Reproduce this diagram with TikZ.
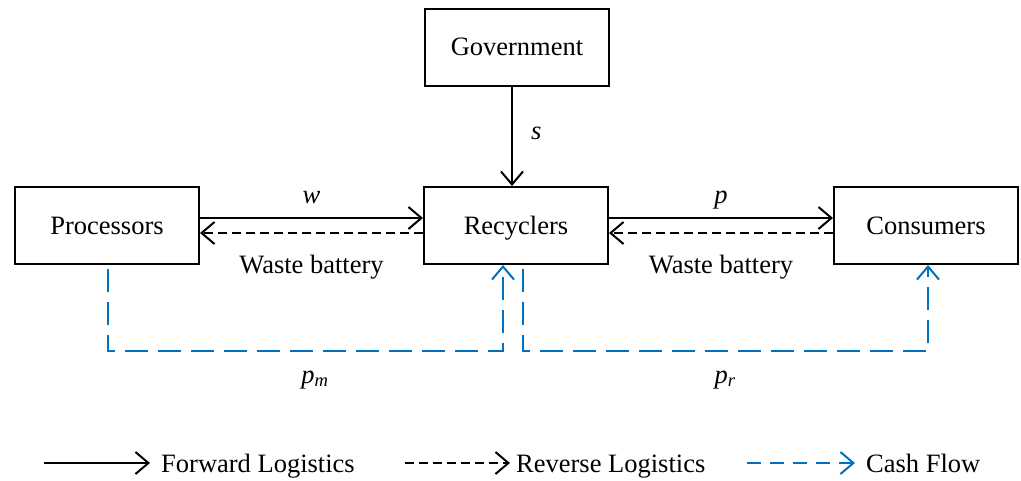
\documentclass[tikz,border=0pt]{standalone}
\usepackage{fontspec}
\setmainfont{Liberation Serif}
\usetikzlibrary{arrows.meta,calc}
\definecolor{cashblue}{RGB}{0,112,192}
\begin{document}
\begin{tikzpicture}[x=1pt,y=-1pt,
  box/.style={draw,line width=2pt,minimum width=184pt,minimum height=77pt,inner sep=0pt,text height=21pt,text depth=4pt,font=\fontsize{26.5}{31}\selectfont},
  lbl/.style={font=\fontsize{26.5}{31}\selectfont,inner sep=0pt,anchor=base},
  leg/.style={font=\fontsize{26.5}{31}\selectfont,inner sep=0pt,anchor=base west},
  tip/.style={-{Straight Barb[length=13pt,width=22pt,line width=2pt]}},
  fwd/.style={tip,line width=2pt,black},
  rev/.style={tip,line width=2pt,black,dash pattern=on 9pt off 5pt},
  cash/.style={tip,line width=2pt,cashblue,dash pattern=on 23pt off 10pt}]
\useasboundingbox (0,0) rectangle (1021,480);
\node[box] (gov) at (517,47) {Government};
\node[box] (proc) at (107,225.5) {Processors};
\node[box] (rec) at (516,225.5) {Recyclers};
\node[box] (con) at (926,225.5) {Consumers};
% government subsidy
\draw[fwd] ([xshift=-5pt]gov.south) -- ([xshift=-4pt]rec.north) node[lbl,anchor=base west,midway,xshift=18pt,yshift=-3pt] {\itshape s};
% forward / reverse left
\draw[fwd] ([yshift=7.5pt]proc.east) -- ([yshift=7.5pt]rec.west) node[lbl,midway,yshift=15pt] {\itshape w};
\draw[rev] ([yshift=-7.5pt]rec.west) -- ([yshift=-7.5pt]proc.east) node[lbl,midway,yshift=-40pt] {Waste battery};
% forward / reverse right
\draw[fwd] ([yshift=7.5pt]rec.east) -- ([yshift=7.5pt]con.west) node[lbl,midway,yshift=15pt] {\itshape p};
\draw[rev] ([yshift=-7.5pt]con.west) -- ([yshift=-7.5pt]rec.east) node[lbl,midway,yshift=-40pt] {Waste battery};
% cash flows
\coordinate (m1) at (108,351);
\coordinate (m2) at (503,351);
\coordinate (r1) at (523,351);
\coordinate (r2) at (928,351);
\draw[cash] ([xshift=1pt,yshift=-4pt]proc.south) -- (m1) -- (m2) -- ([xshift=-13pt]rec.south);
\draw[cash] ([xshift=7pt,yshift=-4pt]rec.south) -- (r1) -- (r2) -- ([xshift=2pt]con.south);
\node[lbl] (pm) at (315,383) {{\itshape p}\textsubscript{\itshape m}};
\node[lbl] (pr) at (725,383) {{\itshape p}\textsubscript{\itshape r}};
% legend
\coordinate (a1) at (44,463); \coordinate (a2) at (150,463);
\coordinate (b1) at (405,463); \coordinate (b2) at (510,463);
\coordinate (c1) at (747,463); \coordinate (c2) at (855,463);
\draw[fwd] (a1) -- (a2);
\draw[rev] (b1) -- (b2);
\draw[cash,dash pattern=on 14pt off 9pt] (c1) -- (c2);
\node[leg] (la) at (161,472) {Forward Logistics};
\node[leg] (lb) at (516,472) {Reverse Logistics};
\node[leg] (lc) at (866,472) {Cash Flow};
\end{tikzpicture}
\end{document}
